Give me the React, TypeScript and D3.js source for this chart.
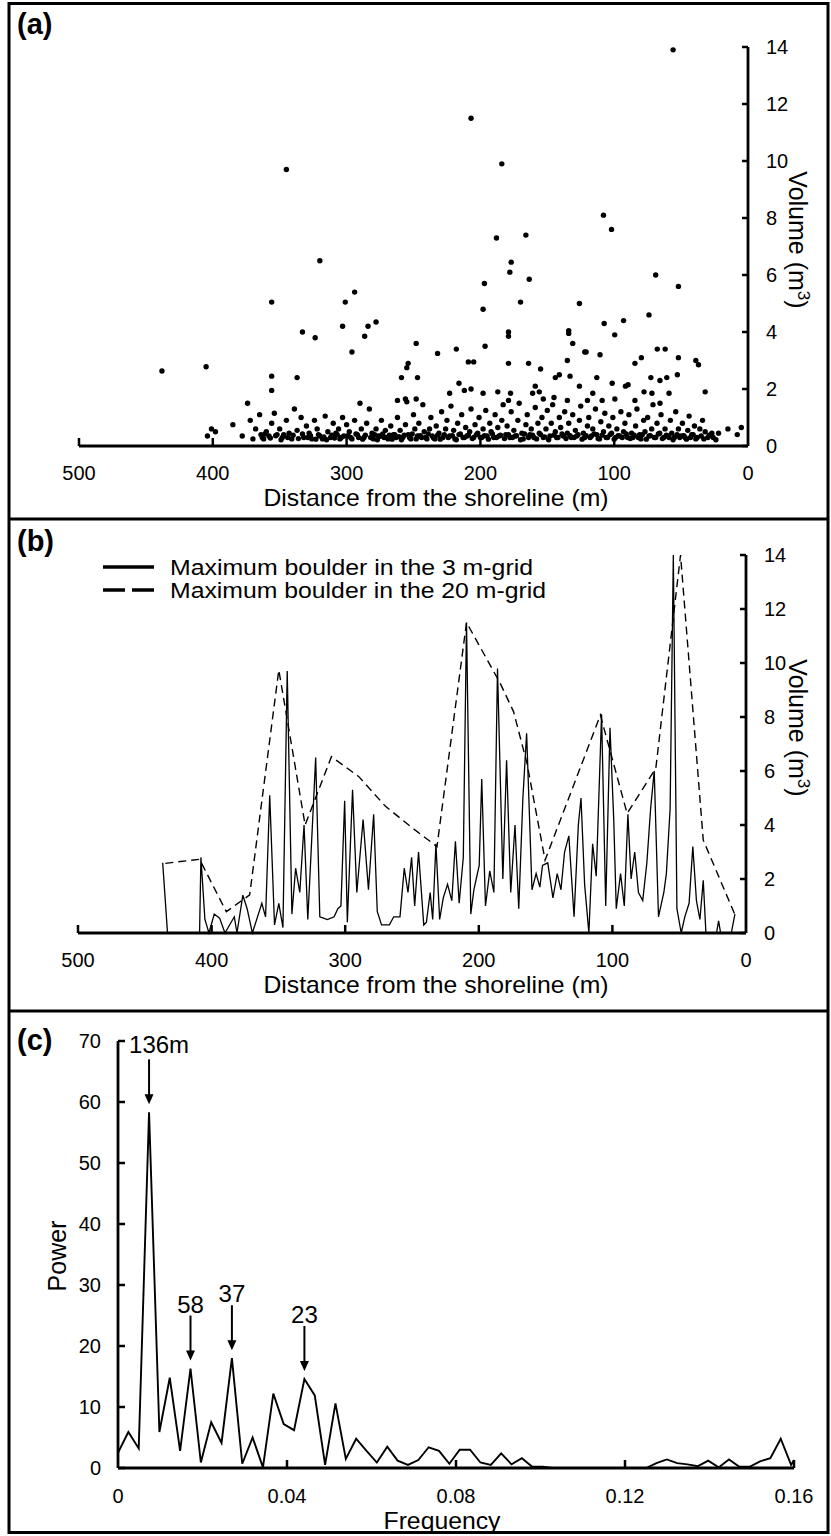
import React from "react";
import * as d3 from "d3";

const FONT = "'Liberation Sans', Arial, Helvetica, sans-serif";

// ---------- tick values ----------
const distanceTicks = [500, 400, 300, 200, 100, 0];
const volumeTicks = [0, 2, 4, 6, 8, 10, 12, 14];
const powerTicks = [0, 10, 20, 30, 40, 50, 60, 70];
const frequencyTicks = [0, 0.04, 0.08, 0.12, 0.16];

// ---------- panel (a): boulders [distance m, volume m3] ----------
const largeBoulders: [number, number][] = [
  [438, 2.63], [405, 2.78], [374, 1.5], [356, 5.05], [356, 2.45], [356, 1.95], [345, 9.7], [337, 2.4],
  [333, 4.0], [323.5, 3.8], [320, 6.5], [303, 4.2], [301, 5.05], [296, 3.3], [294, 5.4], [286.5, 3.85],
  [284, 4.2], [278, 4.35], [259, 2.4], [255, 2.75], [254, 2.9], [248, 3.6], [247, 2.4], [262, 1.6],
  [256, 1.65], [248, 1.65], [232, 3.25], [218, 3.4], [209, 2.95], [205, 2.95], [216, 2.2], [223, 1.85],
  [212, 1.95], [207, 2.0], [198, 1.85], [196.5, 3.5], [187, 1.9], [179, 2.9], [177.5, 1.85], [179, 1.6],
  [164, 2.9], [161, 1.85], [159, 2.1], [156, 1.9], [155, 2.7], [153, 1.65], [145, 1.7], [144, 2.4],
  [141, 2.5], [135, 3.0], [133, 2.45], [131, 3.6], [135, 1.6], [126, 2.1], [121, 3.3], [120, 1.6],
  [116, 1.85], [113, 2.4], [110.6, 3.2], [109, 1.6], [101.5, 2.2], [99.5, 1.65], [91.6, 2.1], [89.6, 2.15],
  [84.5, 2.9], [84.5, 1.6], [79.7, 3.1], [77.7, 1.9], [71.8, 1.85], [72.6, 2.4], [67.8, 3.4], [61.9, 3.4],
  [65.8, 2.3], [65.8, 1.5], [59, 1.85], [60.7, 2.4], [52.8, 2.5], [52, 3.1], [39, 3.0], [37, 2.85], [32, 1.9],
  [56, 13.9], [207, 11.5], [184, 9.9], [108, 8.1], [102, 7.6], [188, 7.3], [166, 7.4], [177, 6.45],
  [178, 6.1], [69, 6.0], [163.5, 5.85], [197, 5.7], [52, 5.6], [170, 5.05], [126, 5.0], [198, 4.8],
  [74, 4.6], [107.5, 4.3], [93, 4.4], [179, 4.0], [179, 3.85], [134, 4.05], [134, 3.95], [99.6, 3.9], [122, 3.3]
];

const smallBoulders: [number, number][] = [
  [404, 0.35], [401, 0.6], [398, 0.5], [385, 0.75], [378, 0.35], [372, 0.9], [370, 0.25], [368, 0.6],
  [365, 1.1], [364, 0.4], [362, 0.25], [360, 0.5], [358, 0.35], [356, 0.8], [354, 1.15], [352, 0.4], [350, 0.6],
  [348, 0.3], [345, 0.9], [343, 0.45], [341, 0.25], [339, 1.3], [337, 0.55], [334, 1.0], [332, 0.3], [330, 0.7],
  [328, 0.45], [326, 0.25], [324, 0.9], [322, 0.6], [320, 0.35], [318, 0.25], [316, 1.05], [314, 0.5], [312, 0.3],
  [310, 0.8], [308, 0.45], [306, 0.6], [305, 0.25], [303, 1.0], [302, 0.35], [300, 0.75], [298, 0.5], [297, 0.3],
  [294, 0.9], [292, 0.4], [290, 1.5], [289, 0.6], [287, 0.3], [285, 0.8], [283, 1.3], [281, 0.45], [280, 0.25],
  [278, 0.6], [276, 0.35], [274, 0.9], [272, 0.3], [271, 0.55], [269, 0.25], [267, 0.7], [265, 0.4], [263, 0.3],
  [262, 1.0], [260, 0.55], [258, 0.3], [256, 0.75], [255, 1.55], [254, 0.4], [252, 0.25], [250, 1.1], [249, 0.6],
  [247, 0.35], [246, 0.8], [244, 0.3], [243, 1.45], [242, 0.5], [240, 0.25], [238, 0.6], [237, 1.0], [236, 0.35],
  [234, 0.25], [233, 0.7], [231, 0.45], [229, 1.2], [228, 0.3], [226, 0.6], [225, 0.9], [223, 0.35], [222, 1.4],
  [220, 0.55], [219, 0.25], [217, 0.8], [216, 0.4], [214, 1.1], [213, 0.3], [211, 0.65], [210, 0.35], [208, 0.5],
  [207, 1.3], [205, 0.3], [204, 0.75], [202, 0.45], [201, 1.0], [199, 0.3], [198, 0.6], [196, 1.25], [195, 0.35],
  [193, 0.8], [192, 0.5], [190, 0.3], [189, 1.1], [187, 0.65], [186, 0.35], [184, 0.9], [183, 1.45], [181, 0.4],
  [180, 0.7], [178, 0.3], [177, 1.2], [175, 0.55], [174, 0.35], [172, 0.9], [171, 1.5], [169, 0.45], [168, 0.25],
  [166, 0.75], [165, 1.1], [163, 0.4], [162, 0.6], [160, 0.3], [159, 1.35], [157, 0.8], [156, 0.45], [154, 1.0],
  [153, 0.3], [151, 0.6], [150, 1.25], [148, 0.35], [147, 0.8], [146, 1.45], [144, 0.5], [143, 0.3], [141, 1.0],
  [140, 0.65], [138, 0.35], [137, 1.2], [135, 0.45], [134, 0.8], [132, 0.3], [131, 1.1], [129, 0.55], [128, 0.35],
  [126, 0.9], [125, 1.4], [123, 0.45], [122, 0.3], [120, 0.7], [119, 1.0], [117, 0.35], [116, 0.6], [114, 1.3],
  [113, 0.4], [111, 0.25], [110, 0.85], [108, 0.5], [107, 1.15], [105, 0.3], [104, 0.7], [102, 0.45], [101, 1.0],
  [99, 0.3], [98, 0.6], [96, 0.35], [95, 1.2], [93, 0.5], [92, 0.8], [90, 0.3], [89, 1.1], [87, 0.45], [86, 0.3],
  [84, 0.7], [83, 1.3], [81, 0.4], [80, 0.25], [78, 0.9], [77, 0.5], [75, 1.0], [74, 0.35], [72, 0.6], [71, 1.45],
  [69, 0.3], [68, 0.8], [66, 0.45], [65, 1.1], [63, 0.3], [62, 0.6], [60, 0.35], [58, 0.9], [57, 0.45], [55, 0.3],
  [54, 1.2], [52, 0.6], [50, 0.35], [49, 0.8], [47, 0.3], [45, 0.55], [44, 1.05], [42, 0.4], [40, 0.7], [38, 0.3],
  [36, 0.6], [34, 0.9], [32, 0.5], [30, 0.3], [27, 0.45], [22, 0.45], [15, 0.6], [8, 0.4], [5, 0.65]
];

const bandBoulders: [number, number][] = [
  [363, 0.3], [361, 0.42], [357, 0.28], [353, 0.36], [349, 0.22], [347, 0.4], [344, 0.3], [340, 0.38], [336, 0.26],
  [333, 0.42], [329, 0.3], [327, 0.36], [323, 0.24], [321, 0.4], [317, 0.32], [315, 0.22], [311, 0.38], [309, 0.28],
  [307, 0.4], [304, 0.3], [299, 0.36], [296, 0.25], [293, 0.42], [291, 0.3], [288, 0.24], [286, 0.38], [282, 0.3],
  [279, 0.4], [277, 0.22], [275, 0.34], [273, 0.42], [270, 0.3], [268, 0.38], [266, 0.24], [264, 0.4], [261, 0.33],
  [259, 0.22], [257, 0.38], [253, 0.3], [251, 0.42], [248, 0.25], [245, 0.36], [241, 0.3], [239, 0.42], [235, 0.28],
  [232, 0.38], [230, 0.24], [227, 0.4], [224, 0.3], [221, 0.36], [218, 0.22], [215, 0.42], [212, 0.3], [209, 0.38],
  [206, 0.26], [203, 0.4], [200, 0.3], [197, 0.36], [194, 0.24], [191, 0.42], [188, 0.3], [185, 0.38], [182, 0.26],
  [179, 0.4], [176, 0.3], [173, 0.36], [170, 0.22], [167, 0.42], [164, 0.3], [161, 0.38], [158, 0.25], [155, 0.4],
  [152, 0.32], [149, 0.22], [145, 0.38], [142, 0.3], [139, 0.42], [136, 0.26], [133, 0.36], [130, 0.3], [127, 0.4],
  [124, 0.24], [121, 0.36], [118, 0.3], [115, 0.42], [112, 0.26], [109, 0.38], [106, 0.3], [103, 0.4], [100, 0.24],
  [97, 0.36], [94, 0.3], [91, 0.42], [88, 0.26], [85, 0.38], [82, 0.3], [79, 0.4], [76, 0.24], [73, 0.36], [70, 0.3],
  [67, 0.42], [64, 0.26], [61, 0.38], [59, 0.3], [56, 0.22], [53, 0.4], [51, 0.3], [48, 0.36], [46, 0.24], [43, 0.3],
  [41, 0.4], [39, 0.25], [35, 0.35], [33, 0.25], [29, 0.38], [26, 0.3], [24, 0.22]
];

// ---------- panel (b): maximum boulder per grid [distance m, volume m3] ----------
const grid3m: [number, number][] = [
  [436.6, 2.6], [433, 0], [409, 0], [408, 2.8], [405, 0.5], [402, 0], [398, 0.7], [394, 0.55], [390, 0], [383, 0.6],
  [381, 0], [376.6, 1.4], [373.4, 0.9], [369.5, 0], [362.4, 1.1], [359.6, 0.6], [356.5, 5.1], [352.9, 0.3],
  [349.7, 1.1], [346.6, 0.2], [343.4, 9.7], [339.9, 0.7], [337.1, 2.4], [334, 1.5], [330.8, 4.0], [328, 0.5],
  [326, 2.5], [322.1, 6.5], [319, 0.6], [316.2, 0.55], [313.4, 0.5], [308.3, 0.6], [305.5, 0.9], [303.2, 1.0],
  [300.4, 4.9], [298.4, 0.4], [294.5, 5.3], [291.3, 1.5], [286.6, 4.2], [282.6, 1.6], [278.7, 4.4], [276, 0.8],
  [272.8, 0.3], [266.9, 0.3], [263.7, 0.6], [259, 0.6], [255.8, 2.4], [253, 1.5], [250.3, 2.8], [248, 1.0],
  [245.1, 3.0], [241.2, 0.3], [239.2, 0.4], [236.4, 1.5], [234.5, 0.5], [232.1, 3.3], [229.3, 0.5], [226.6, 1.3],
  [223.4, 1.8], [220.2, 1.2], [217.5, 3.4], [214.7, 1.1], [211.6, 2.8], [209.2, 11.5], [206, 0.7], [203.7, 1.6],
  [199.7, 2.5], [197.8, 5.7], [195, 1.0], [191.8, 2.3], [188.7, 1.5], [186, 9.8], [182, 2.0], [179.2, 6.4],
  [176.1, 1.5], [172.9, 4.0], [170.1, 0.9], [167, 5.0], [164.2, 7.4], [160.2, 1.6], [157.1, 2.2], [154.3, 1.7],
  [152.3, 2.5], [148.4, 2.6], [144.5, 1.3], [141.3, 2.2], [138.5, 1.6], [135.8, 3.0], [132.6, 3.6], [128.7, 0.6],
  [125.5, 4.0], [123.5, 5.0], [120.8, 1.8], [117.6, 0], [114.8, 3.3], [112.1, 2.1], [108.1, 8.1], [105, 1.0],
  [101.8, 7.6], [99, 4.2], [97.1, 0.9], [93.9, 2.2], [91.1, 1.0], [88.4, 4.4], [86, 2.0], [83.3, 3.0], [80.5, 1.5],
  [77.3, 1.2], [74.2, 2.6], [71.4, 4.6], [68.7, 6.0], [65.5, 0.6], [61.5, 1.5], [59.6, 2.2], [56.8, 4.6],
  [54.4, 14.0], [51.7, 0.9], [48.5, 0], [45.8, 0.6], [42.6, 1.1], [39.8, 3.2], [37.1, 1.2], [34.5, 0.5], [32, 1.95],
  [30, 0], [22.1, 0], [20.5, 0.45], [19, 0], [11, 0], [8.3, 0.7]
];

const grid20m: [number, number][] = [
  [434.6, 2.58], [409, 2.73], [389, 0.79], [371.5, 1.41], [349.7, 9.74], [330, 4.0], [310.3, 6.53], [290, 5.8],
  [270, 4.7], [250, 3.9], [231.3, 3.2], [209.2, 11.5], [184, 9.25], [174, 8.2], [164, 6.3], [150.4, 2.7],
  [109, 8.07], [89, 4.43], [67.5, 6.1], [49, 14.0], [32, 3.44], [8.3, 0.68]
];

// ---------- panel (c): periodogram ----------
const frequency = [
  0, 0.00245, 0.0049, 0.00735, 0.0098, 0.01225, 0.0147, 0.01716, 0.01961, 0.02206, 0.02451, 0.02696, 0.02941,
  0.03186, 0.03431, 0.03676, 0.03922, 0.04167, 0.04412, 0.04657, 0.04902, 0.05147, 0.05392, 0.05637, 0.05882,
  0.06127, 0.06373, 0.06618, 0.06863, 0.07108, 0.07353, 0.07598, 0.07843, 0.08088, 0.08333, 0.08578, 0.08824,
  0.09069, 0.09314, 0.09559, 0.09804, 0.10049, 0.10294, 0.10539, 0.10784, 0.11029, 0.11275, 0.1152, 0.11765,
  0.1201, 0.12255, 0.125, 0.12745, 0.1299, 0.13235, 0.1348, 0.13725, 0.1397, 0.14216, 0.14461, 0.14706, 0.14951,
  0.15196, 0.15441, 0.15686, 0.15931, 0.16
];
const power = [
  2.5, 5.9, 3.2, 58.3, 5.9, 14.8, 2.8, 16.3, 0.9, 7.5, 4.1, 18.0, 0.7, 5.0, 0.1, 12.2, 7.2, 6.2, 14.6, 11.9, 0.5,
  10.6, 1.5, 4.8, 2.8, 0.9, 3.5, 1.2, 0.5, 1.3, 3.4, 2.8, 0.7, 3.0, 3.0, 0.9, 0.5, 2.4, 0.6, 1.6, 0.2, 0.2, 0, 0,
  0, 0, 0, 0, 0, 0, 0, 0, 0.8, 1.4, 0.8, 0.6, 0.3, 1.2, 0.1, 1.4, 0.2, 0.2, 1.1, 1.6, 4.8, 0.5, 1.3
];
const peakLabels = ["136m", "58", "37", "23"];
const peakIndex = [3, 7, 11, 18];

export default function App() {
  const xA = d3.scaleLinear().domain([500, 0]).range([79, 748]);
  const yA = d3.scaleLinear().domain([0, 14]).range([446, 47]);
  const xB = d3.scaleLinear().domain([500, 0]).range([78, 746]);
  const yB = d3.scaleLinear().domain([0, 14]).range([933, 555]);
  const xC = d3.scaleLinear().domain([0, 0.16]).range([118, 794]);
  const yC = d3.scaleLinear().domain([0, 70]).range([1468, 1041]);

  const lineB = (s: any, x: any, y: any) =>
    d3.line<[number, number]>().x((d) => x(d[0])).y((d) => y(d[1]))(s) || "";
  const lineC = d3
    .line<number>()
    .x((_, i) => xC(frequency[i]))
    .y((d) => yC(d));

  const allBoulders = [...largeBoulders, ...smallBoulders, ...bandBoulders];

  const txt = { fontFamily: FONT, fill: "#000" } as const;

  const distAxis = (x: any, y0: number, labelY: number, titleY: number) => (
    <g>
      <line x1={x(500)} x2={x(0)} y1={y0} y2={y0} stroke="#000" strokeWidth={2.8} />
      {distanceTicks.map((t) => (
        <g key={t}>
          {t !== 0 && <line x1={x(t)} x2={x(t)} y1={y0} y2={y0 - 8} stroke="#000" strokeWidth={2.5} />}
          <text x={x(t)} y={labelY} textAnchor="middle" fontSize={20} {...txt}>{t}</text>
        </g>
      ))}
      <text x={436} y={titleY} textAnchor="middle" fontSize={24} textLength={345} lengthAdjust="spacingAndGlyphs" {...txt}>
        Distance from the shoreline (m)
      </text>
    </g>
  );

  const volAxis = (xPos: number, y: any, titleY: number) => (
    <g>
      <line x1={xPos} x2={xPos} y1={y(0)} y2={y(14)} stroke="#000" strokeWidth={2.8} />
      {volumeTicks.map((t) => (
        <g key={t}>
          <line x1={xPos - 6} x2={xPos} y1={y(t)} y2={y(t)} stroke="#000" strokeWidth={2.5} />
          <text x={xPos + 18} y={y(t)} dy="0.35em" fontSize={20} {...txt}>{t}</text>
        </g>
      ))}
      <text transform={`translate(798,${titleY}) rotate(90)`} textAnchor="middle" dy="0.35em" fontSize={25} {...txt}>
        Volume (m<tspan dy={-9} fontSize={17}>3</tspan><tspan dy={9}>)</tspan>
      </text>
    </g>
  );

  return (
    <svg width={831} height={1536} style={{ position: "absolute", left: 0, top: 0, background: "#fff" }}>
      <rect x={0} y={0} width={831} height={1536} fill="#fff" />
      {/* frame */}
      <rect x={9} y={3.5} width={819} height={1529} fill="none" stroke="#000" strokeWidth={3} />
      <line x1={9} x2={828} y1={519} y2={519} stroke="#000" strokeWidth={3} />
      <line x1={9} x2={828} y1={1011} y2={1011} stroke="#000" strokeWidth={3} />

      {/* panel (a) */}
      <text x={17} y={34} fontSize={29} fontWeight="bold" {...txt}>(a)</text>
      {allBoulders.map((d, i) => (
        <circle key={i} cx={xA(d[0])} cy={yA(d[1])} r={2.7} fill="#000" />
      ))}
      {distAxis(xA, 446, 480, 506)}
      {volAxis(748, yA, 240)}

      {/* panel (b) */}
      <text x={17} y={551} fontSize={29} fontWeight="bold" {...txt}>(b)</text>
      <line x1={103} x2={154} y1={567} y2={567} stroke="#000" strokeWidth={3.5} />
      <text x={170} y={575} fontSize={22} textLength={363} lengthAdjust="spacingAndGlyphs" {...txt}>
        Maximum boulder in the 3 m-grid
      </text>
      <line x1={103} x2={154} y1={590} y2={590} stroke="#000" strokeWidth={3.5} strokeDasharray="22,7" />
      <text x={170} y={598} fontSize={22} textLength={376} lengthAdjust="spacingAndGlyphs" {...txt}>
        Maximum boulder in the 20 m-grid
      </text>
      <path d={lineB(grid20m, xB, yB)} fill="none" stroke="#000" strokeWidth={1.4} strokeDasharray="8,5" />
      <path d={lineB(grid3m, xB, yB)} fill="none" stroke="#000" strokeWidth={1.3} strokeLinejoin="miter" />
      {distAxis(xB, 933, 967, 993)}
      {volAxis(746, yB, 728)}

      {/* panel (c) */}
      <text x={17} y={1050} fontSize={29} fontWeight="bold" {...txt}>(c)</text>
      <path d={lineC(power) || ""} fill="none" stroke="#000" strokeWidth={1.9} />
      <line x1={xC(0)} x2={xC(0.16)} y1={yC(0)} y2={yC(0)} stroke="#000" strokeWidth={2.8} />
      {frequencyTicks.map((t) => (
        <g key={t}>
          {t !== 0 && <line x1={xC(t)} x2={xC(t)} y1={yC(0)} y2={yC(0) - 8} stroke="#000" strokeWidth={2.5} />}
          <text x={xC(t)} y={1503} textAnchor="middle" fontSize={20} {...txt}>{t === 0 ? "0" : String(t)}</text>
        </g>
      ))}
      <line x1={xC(0)} x2={xC(0)} y1={yC(0)} y2={yC(70)} stroke="#000" strokeWidth={2.8} />
      {powerTicks.map((t) => (
        <g key={t}>
          <line x1={xC(0)} x2={xC(0) + 7} y1={yC(t)} y2={yC(t)} stroke="#000" strokeWidth={2.5} />
          <text x={101} y={yC(t)} dy="0.35em" textAnchor="end" fontSize={20} {...txt}>{t}</text>
        </g>
      ))}
      <text x={442} y={1529} textAnchor="middle" fontSize={23} textLength={117} lengthAdjust="spacingAndGlyphs" {...txt}>
        Frequency
      </text>
      <text transform={`translate(57,1256) rotate(-90)`} textAnchor="middle" dy="0.35em" fontSize={25} {...txt}>Power</text>
      {peakIndex.map((k, i) => {
        const x = xC(frequency[k]);
        const tip = yC(power[k]) - 8;
        const tail = tip - 45;
        const first = i === 0;
        return (
          <g key={k}>
            <line x1={x} x2={x} y1={tail} y2={tip - 9} stroke="#000" strokeWidth={2} />
            <path d={`M${x - 4.5},${tip - 10}L${x + 4.5},${tip - 10}L${x},${tip}Z`} fill="#000" />
            <text
              x={first ? x - 20 : x}
              y={first ? tail - 6 : tail - 3}
              textAnchor={first ? "start" : "middle"}
              fontSize={24}
              {...txt}
            >
              {peakLabels[i]}
            </text>
          </g>
        );
      })}
    </svg>
  );
}
